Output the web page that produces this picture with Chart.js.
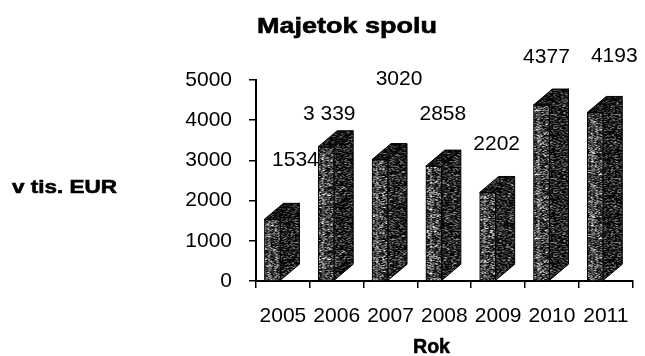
<!DOCTYPE html>
<html>
<head>
<meta charset="utf-8">
<script src="https://cdn.jsdelivr.net/npm/chart.js@4/dist/chart.umd.min.js"></script>
<style>
  html, body { margin: 0; padding: 0; background: #fff; }
  #wrap { width: 645px; height: 356px; position: relative; }
</style>
</head>
<body>
<div id="wrap"><canvas id="assetChart"></canvas></div>
<script>
const years = ["2005", "2006", "2007", "2008", "2009", "2010", "2011"];
const assets = [1534, 3339, 3020, 2858, 2202, 4377, 4193];
const yTickValues = [0, 1000, 2000, 3000, 4000, 5000];
// only the 2006 value is printed with a thousands space
const spacedLabel = [false, true, false, false, false, false, false];

// hand-placed value labels, pixel offset from the top of each bar front
const labelNudge = [[23, -59], [3, -33], [19, -80], [9, -52], [9, -48], [5, -48], [19, -56]];

const FONT = "'Liberation Sans', Arial, sans-serif";
const depth = { dx: 19, dy: 16 };
const barShift = -10.5;

// grainy grey fill like an old printed Excel 3D column
function grain(mean, spread, seed) {
  const n = 64;
  const c = document.createElement("canvas");
  c.width = c.height = n;
  const g = c.getContext("2d");
  const img = g.createImageData(n, n);
  let s = seed >>> 0;
  const next = () => (s = (Math.imul(s, 1103515245) + 12345) >>> 0) >>> 16;
  for (let p = 0; p < n * n; p++) {
    const a = (next() % 256) / 255, b = (next() % 256) / 255;
    let v = mean + (a * a * a - 0.25) * spread + (b - 0.5) * spread * 0.4;
    v = Math.max(0, Math.min(255, v));
    img.data[p * 4] = img.data[p * 4 + 1] = img.data[p * 4 + 2] = v;
    img.data[p * 4 + 3] = 255;
  }
  g.putImageData(img, 0, 0);
  return g.createPattern(c, "repeat");
}

const frontFill = grain(70, 260, 7);
const sideFill = grain(30, 190, 21);
const topFill = grain(18, 150, 3);

function fmt(v, i) {
  const s = String(v);
  return spacedLabel[i] ? s.replace(/\B(?=(\d{3})+$)/g, " ") : s;
}

const bars3d = {
  id: "bars3d",
  beforeDatasetsDraw(chart) {
    chart.ctx.save();
    chart.ctx.translate(barShift, 0);
  },
  afterDatasetsDraw(chart) {
    const ctx = chart.ctx;
    const meta = chart.getDatasetMeta(0);
    meta.data.forEach((bar, i) => {
      const { x, y, base, width } = bar.getProps(["x", "y", "base", "width"], true);
      const l = x - width / 2, r = x + width / 2;

      // faint highlight stripe down the front
      ctx.fillStyle = "rgba(255,255,255,0.22)";
      ctx.fillRect(l + 4, y + 1, 2, base - y - 1);

      ctx.strokeStyle = "#000";
      ctx.lineWidth = 1;

      ctx.beginPath();
      ctx.moveTo(r, base);
      ctx.lineTo(r, y);
      ctx.lineTo(r + depth.dx, y - depth.dy);
      ctx.lineTo(r + depth.dx, base - depth.dy);
      ctx.closePath();
      ctx.fillStyle = sideFill;
      ctx.fill();
      ctx.stroke();

      ctx.beginPath();
      ctx.moveTo(l, y);
      ctx.lineTo(r, y);
      ctx.lineTo(r + depth.dx, y - depth.dy);
      ctx.lineTo(l + depth.dx, y - depth.dy);
      ctx.closePath();
      ctx.fillStyle = topFill;
      ctx.fill();
      ctx.stroke();

      ctx.fillStyle = "#000";
      ctx.font = "21px " + FONT;
      ctx.textAlign = "center";
      ctx.textBaseline = "middle";
      const [nx, ny] = labelNudge[i];
      ctx.fillText(fmt(assets[i], i), x + nx, y + ny);
    });
    ctx.restore();
  }
};

// bold captions, stretched sideways to the printed width
const captions = {
  id: "captions",
  afterDraw(chart) {
    const ctx = chart.ctx;
    const items = [
      { text: "Majetok spolu", size: 22, left: 257, baseline: 33, width: 180 },
      { text: "v tis. EUR", size: 19, left: 12, baseline: 193, width: 105 },
      { text: "Rok", size: 21, left: 413, baseline: 353, width: 37 }
    ];
    ctx.save();
    ctx.fillStyle = "#000";
    ctx.strokeStyle = "#000";
    ctx.lineWidth = 0.6;
    ctx.textAlign = "left";
    ctx.textBaseline = "alphabetic";
    items.forEach((it) => {
      ctx.font = "bold " + it.size + "px " + FONT;
      const sx = it.width / ctx.measureText(it.text).width;
      ctx.save();
      ctx.translate(it.left, it.baseline);
      ctx.scale(sx, 1);
      ctx.fillText(it.text, 0, 0);
      ctx.strokeText(it.text, 0, 0);
      ctx.restore();
    });
    ctx.restore();
  }
};

new Chart(document.getElementById("assetChart"), {
  type: "bar",
  data: {
    labels: years,
    datasets: [
      {
        data: assets,
        backgroundColor: frontFill,
        borderColor: "#000",
        borderWidth: 1,
        barThickness: 16
      }
    ]
  },
  options: {
    responsive: true,
    maintainAspectRatio: false,
    animation: false,
    layout: { padding: { top: 80, right: 9, left: 0, bottom: 0 } },
    plugins: {
      legend: { display: false },
      tooltip: { enabled: false },
      title: { display: false }
    },
    scales: {
      x: {
        offset: true,
        afterFit: (s) => { s.height = 75; },
        border: { display: true, color: "#000", width: 2 },
        grid: { drawOnChartArea: false, offset: true, color: "#000", tickLength: 7, lineWidth: 1.5 },
        ticks: { color: "#000", font: { family: FONT, size: 21 }, padding: 16, maxRotation: 0, autoSkip: false }
      },
      y: {
        min: 0,
        max: 5000,
        afterBuildTicks: (s) => { s.ticks = yTickValues.map((v) => ({ value: v })); },
        afterFit: (s) => { s.width = 256; },
        border: { display: true, color: "#000", width: 2 },
        grid: { drawOnChartArea: false, color: "#000", tickLength: 7, lineWidth: 1.5 },
        ticks: {
          color: "#000",
          font: { family: FONT, size: 21 },
          padding: 17,
          callback: (v) => String(v)
        }
      }
    }
  },
  plugins: [bars3d, captions]
});
</script>
</body>
</html>
